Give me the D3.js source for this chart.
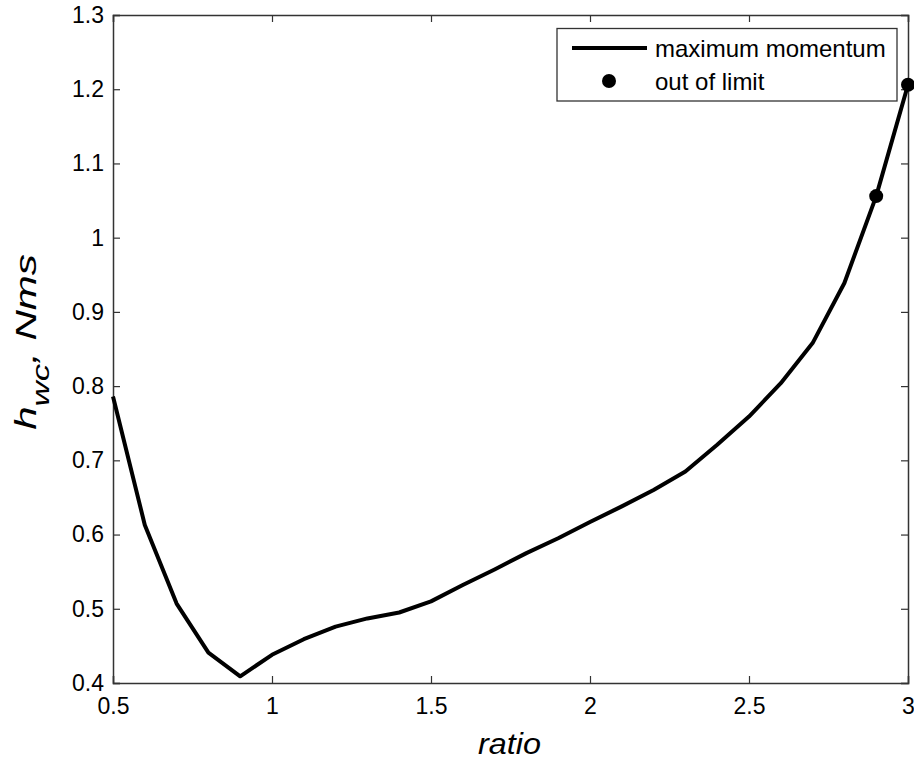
<!DOCTYPE html>
<html>
<head>
<meta charset="utf-8">
<script src="https://cdn.jsdelivr.net/npm/d3@7"></script>
<style>
  html, body { margin: 0; padding: 0; background: #fff; }
  svg { display: block; font-family: "Liberation Sans", Arial, sans-serif; }
</style>
</head>
<body>
<svg id="chart" width="914" height="761"></svg>
<script>
  const ratio = [0.5, 0.6, 0.7, 0.8, 0.9, 1.0, 1.1, 1.2, 1.3, 1.4, 1.5, 1.6, 1.7, 1.8, 1.9,
    2.0, 2.1, 2.2, 2.3, 2.4, 2.5, 2.6, 2.7, 2.8, 2.9, 3.0];
  const momentum = [0.786, 0.613, 0.507, 0.441, 0.409, 0.438, 0.459, 0.476, 0.487, 0.495, 0.510,
    0.532, 0.553, 0.575, 0.595, 0.617, 0.638, 0.660, 0.685, 0.721, 0.759, 0.804, 0.858, 0.939,
    1.056, 1.206];
  const outRatio = [2.9, 3.0];
  const outMomentum = [1.056, 1.206];

  const xTicks = [0.5, 1, 1.5, 2, 2.5, 3];
  const xTickLabels = ["0.5", "1", "1.5", "2", "2.5", "3"];
  const yTicks = [0.4, 0.5, 0.6, 0.7, 0.8, 0.9, 1.0, 1.1, 1.2, 1.3];
  const yTickLabels = ["0.4", "0.5", "0.6", "0.7", "0.8", "0.9", "1", "1.1", "1.2", "1.3"];

  (function () {
    "use strict";

    const svg = d3.select("#chart");
    const plotL = 113, plotR = 908, plotT = 15, plotB = 683;

    const x = d3.scaleLinear().domain([0.5, 3]).range([plotL, plotR]);
    const y = d3.scaleLinear().domain([0.4, 1.3]).range([plotB, plotT]);

    const fs = 23;

    // axes with inward ticks, MATLAB-style box
    const gx = svg.append("g").attr("transform", `translate(0,${plotB})`)
      .call(d3.axisBottom(x).tickValues(xTicks).tickSize(-7).tickPadding(15)
        .tickFormat((d, i) => xTickLabels[i]));
    const gxt = svg.append("g").attr("transform", `translate(0,${plotT})`)
      .call(d3.axisTop(x).tickValues(xTicks).tickSize(-7).tickFormat(""));
    const gy = svg.append("g").attr("transform", `translate(${plotL},0)`)
      .call(d3.axisLeft(y).tickValues(yTicks).tickSize(-7).tickPadding(9)
        .tickFormat((d, i) => yTickLabels[i]));
    const gyr = svg.append("g").attr("transform", `translate(${plotR},0)`)
      .call(d3.axisRight(y).tickValues(yTicks).tickSize(-7).tickFormat(""));

    [gx, gxt, gy, gyr].forEach((g) => {
      g.select(".domain").attr("stroke", "#333").attr("stroke-width", 1.5);
      g.selectAll(".tick line").attr("stroke", "#333").attr("stroke-width", 1.2);
      g.selectAll(".tick text").attr("fill", "#000").style("font-size", fs + "px")
        .style("font-family", "'Liberation Sans', Arial, sans-serif");
    });

    // curve
    const line = d3.line().x((d, i) => x(ratio[i])).y((d) => y(d));
    svg.append("path")
      .datum(momentum)
      .attr("d", line)
      .attr("fill", "none")
      .attr("stroke", "#000")
      .attr("stroke-width", 4)
      .attr("stroke-linejoin", "round");

    svg.append("g").selectAll("circle")
      .data(outMomentum)
      .join("circle")
      .attr("cx", (d, i) => x(outRatio[i]))
      .attr("cy", (d) => y(d))
      .attr("r", 7)
      .attr("fill", "#000");

    // axis labels (the original glyphs are a bit stretched, so scale along the baseline)
    svg.append("text")
      .attr("x", 509.5)
      .attr("y", 754)
      .attr("text-anchor", "middle")
      .attr("textLength", 63)
      .attr("lengthAdjust", "spacingAndGlyphs")
      .style("font-size", "29px")
      .style("font-style", "italic")
      .text("ratio");

    const yl = svg.append("text")
      .attr("transform", "translate(36,342) rotate(-90) scale(1.45,1)")
      .attr("text-anchor", "middle")
      .style("font-size", "29px")
      .style("font-style", "italic");
    yl.append("tspan").text("h");
    yl.append("tspan").attr("dy", 13).style("font-size", "24px").text("wc");
    yl.append("tspan").attr("dy", -13).text(", Nms");

    // legend
    const lg = svg.append("g");
    lg.append("rect")
      .attr("x", 557).attr("y", 28.5).attr("width", 340).attr("height", 72.5)
      .attr("fill", "#fff").attr("stroke", "#333").attr("stroke-width", 1.3);
    lg.append("line")
      .attr("x1", 572).attr("x2", 647).attr("y1", 48).attr("y2", 48)
      .attr("stroke", "#000").attr("stroke-width", 4);
    lg.append("circle").attr("cx", 609).attr("cy", 81).attr("r", 7).attr("fill", "#000");
    lg.append("text").attr("x", 655).attr("y", 57).style("font-size", "24px").text("maximum momentum");
    lg.append("text").attr("x", 655).attr("y", 90).style("font-size", "24px").text("out of limit");
  })();
</script>
</body>
</html>
